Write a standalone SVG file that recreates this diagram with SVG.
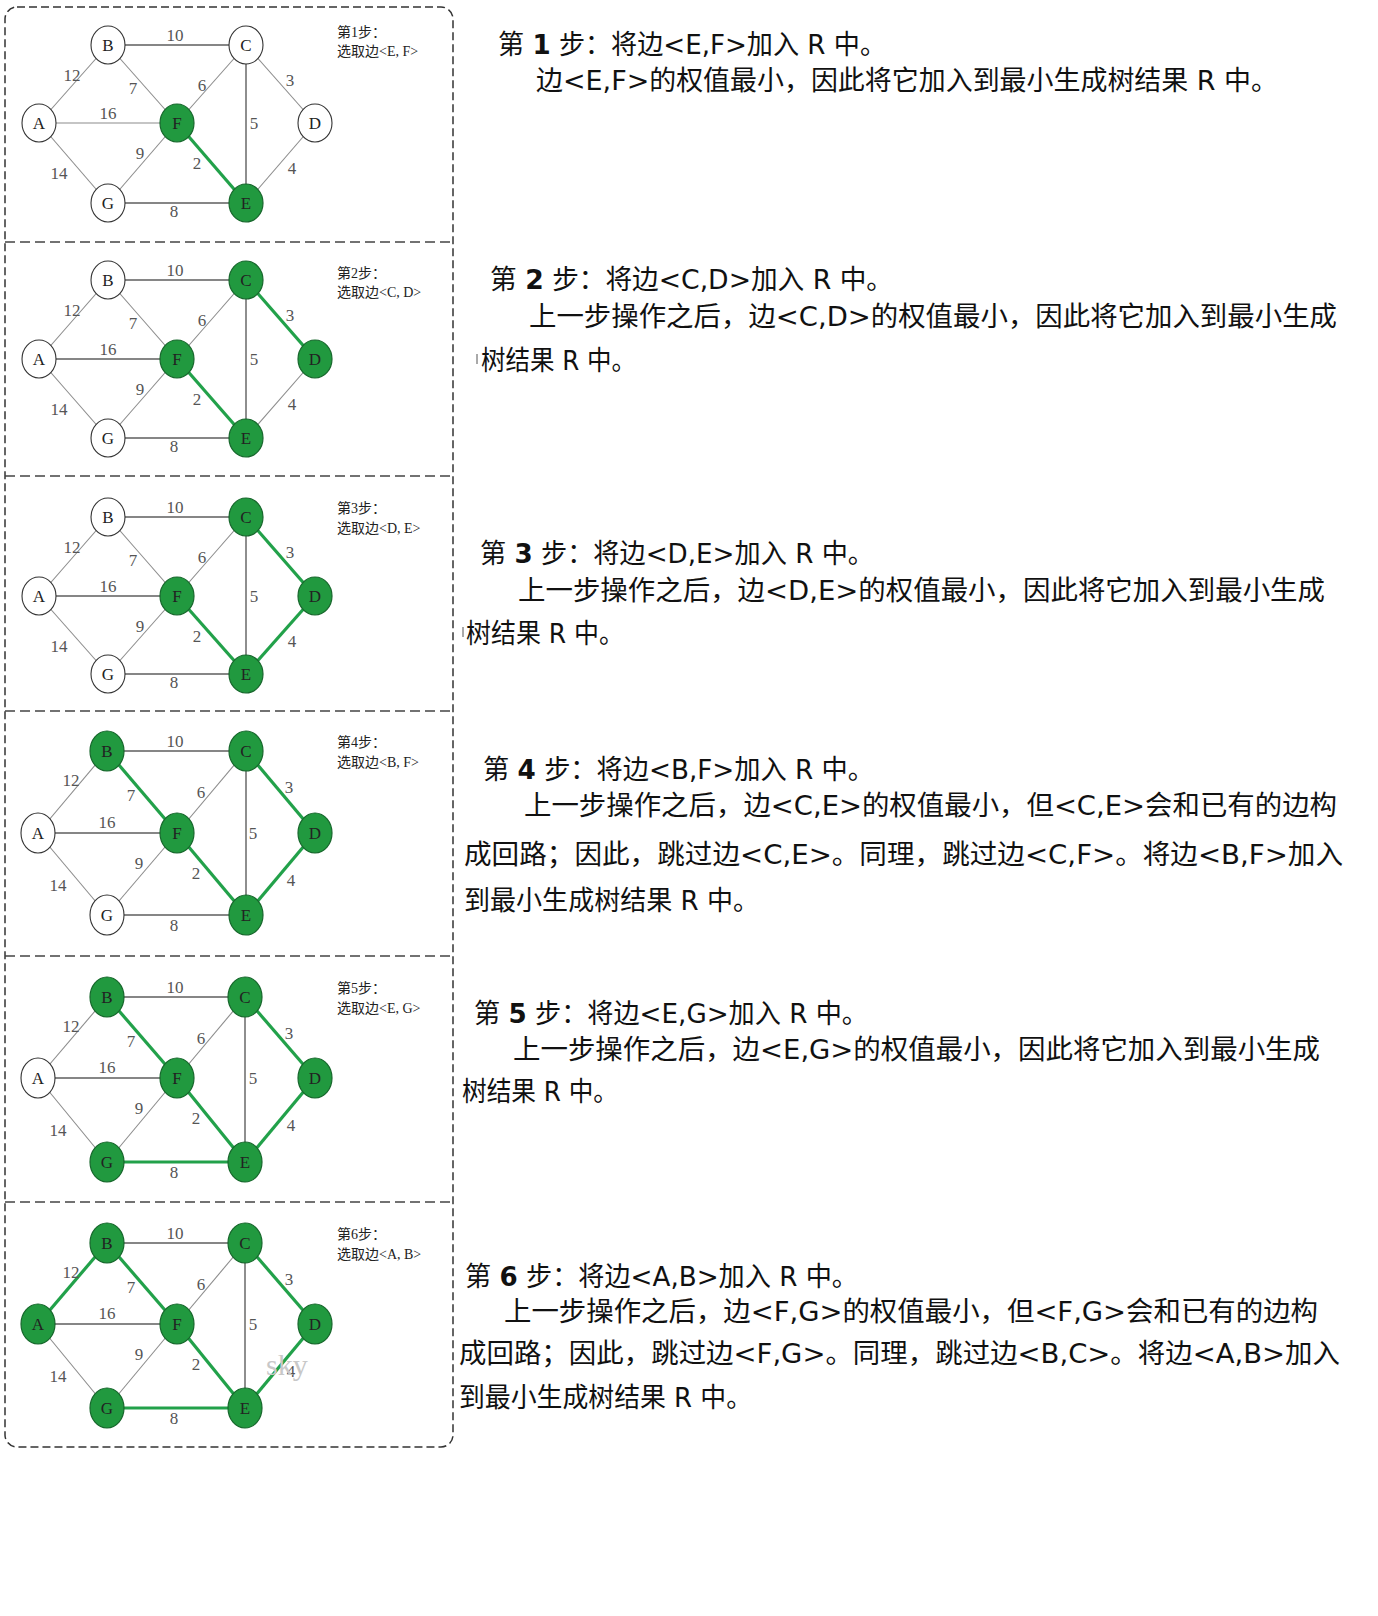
<svg xmlns="http://www.w3.org/2000/svg" width="1378" height="1616" viewBox="0 0 1378 1616">
<style>
.bg{fill:#fff}
.frame{fill:none;stroke:#333;stroke-width:1.5;stroke-dasharray:8 4}
.div{stroke:#444;stroke-width:1.5;stroke-dasharray:10 5}
.e{stroke:#8c8c8c;stroke-width:1.1}
.ed{stroke:#5e5e5e;stroke-width:1.4}
.eg{stroke:#22a14a;stroke-width:3.2}
.nw{fill:#fff;stroke:#333;stroke-width:1.1}
.ng{fill:#21993f;stroke:#17672c;stroke-width:1.2}
.nl{font-family:"Liberation Serif",serif;font-size:17px;fill:#222;text-anchor:middle}
.wl{font-family:"Liberation Serif",serif;font-size:17px;fill:#555;text-anchor:middle}
.tag{font-family:"Liberation Serif","Noto Sans CJK SC",serif;font-size:14px;fill:#222}
.tx{font-family:"DejaVu Sans","Noto Sans CJK SC",sans-serif;font-size:27px;fill:#111}
.b{font-weight:bold}
</style>
<rect class="bg" x="0" y="0" width="1378" height="1616"/>

<g id="frame">
<rect class="frame" x="5" y="7" width="448" height="1440" rx="12" ry="12"/>
<line class="div" x1="5" y1="242" x2="453" y2="242"/>
<line class="div" x1="5" y1="476" x2="453" y2="476"/>
<line class="div" x1="5" y1="711" x2="453" y2="711"/>
<line class="div" x1="5" y1="956" x2="453" y2="956"/>
<line class="div" x1="5" y1="1202" x2="453" y2="1202"/>
</g>

<!-- Panel 1 -->
<g id="panel1" transform="translate(0,45)">
<g id="p1-edges">
<line class="e" x1="39" y1="78" x2="108" y2="0"/>
<line class="ed" x1="108" y1="0" x2="246" y2="0"/>
<line class="e" x1="108" y1="0" x2="177" y2="78"/>
<line class="e" x1="246" y1="0" x2="177" y2="78"/>
<line class="e" x1="246" y1="0" x2="315" y2="78"/>
<line class="e" x1="39" y1="78" x2="177" y2="78"/>
<line class="ed" x1="246" y1="0" x2="246" y2="158"/>
<line class="e" x1="177" y1="78" x2="108" y2="158"/>
<line class="eg" x1="177" y1="78" x2="246" y2="158"/>
<line class="e" x1="315" y1="78" x2="246" y2="158"/>
<line class="e" x1="39" y1="78" x2="108" y2="158"/>
<line class="ed" x1="108" y1="158" x2="246" y2="158"/>
</g>
<g id="p1-weights">
<text class="wl" x="175" y="-4">10</text><text class="wl" x="72" y="36">12</text><text class="wl" x="133" y="49">7</text><text class="wl" x="202" y="46">6</text><text class="wl" x="290" y="41">3</text><text class="wl" x="108" y="74">16</text><text class="wl" x="254" y="84">5</text><text class="wl" x="140" y="114">9</text><text class="wl" x="197" y="124">2</text><text class="wl" x="292" y="129">4</text><text class="wl" x="59" y="134">14</text><text class="wl" x="174" y="172">8</text>
</g>
<g id="p1-A"><ellipse class="nw" cx="39" cy="78" rx="17" ry="19"/><text class="nl" x="39" y="84">A</text></g>
<g id="p1-B"><ellipse class="nw" cx="108" cy="0" rx="17" ry="19"/><text class="nl" x="108" y="6">B</text></g>
<g id="p1-C"><ellipse class="nw" cx="246" cy="0" rx="17" ry="19"/><text class="nl" x="246" y="6">C</text></g>
<g id="p1-D"><ellipse class="nw" cx="315" cy="78" rx="17" ry="19"/><text class="nl" x="315" y="84">D</text></g>
<g id="p1-E"><ellipse class="ng" cx="246" cy="158" rx="17" ry="19"/><text class="nl" x="246" y="164">E</text></g>
<g id="p1-F"><ellipse class="ng" cx="177" cy="78" rx="17" ry="19"/><text class="nl" x="177" y="84">F</text></g>
<g id="p1-G"><ellipse class="nw" cx="108" cy="158" rx="17" ry="19"/><text class="nl" x="108" y="164">G</text></g>
<text class="tag" x="337" y="-8">第1步：</text>
<text class="tag" x="337" y="11">选取边&lt;E, F&gt;</text>
</g>

<!-- Panel 2 -->
<g id="panel2" transform="translate(0,280)">
<g id="p2-edges">
<line class="e" x1="39" y1="79" x2="108" y2="0"/>
<line class="ed" x1="108" y1="0" x2="246" y2="0"/>
<line class="e" x1="108" y1="0" x2="177" y2="79"/>
<line class="e" x1="246" y1="0" x2="177" y2="79"/>
<line class="eg" x1="246" y1="0" x2="315" y2="79"/>
<line class="ed" x1="39" y1="79" x2="177" y2="79"/>
<line class="ed" x1="246" y1="0" x2="246" y2="158"/>
<line class="e" x1="177" y1="79" x2="108" y2="158"/>
<line class="eg" x1="177" y1="79" x2="246" y2="158"/>
<line class="e" x1="315" y1="79" x2="246" y2="158"/>
<line class="e" x1="39" y1="79" x2="108" y2="158"/>
<line class="ed" x1="108" y1="158" x2="246" y2="158"/>
</g>
<g id="p2-weights">
<text class="wl" x="175" y="-4">10</text><text class="wl" x="72" y="36">12</text><text class="wl" x="133" y="49">7</text><text class="wl" x="202" y="46">6</text><text class="wl" x="290" y="41">3</text><text class="wl" x="108" y="75">16</text><text class="wl" x="254" y="85">5</text><text class="wl" x="140" y="115">9</text><text class="wl" x="197" y="125">2</text><text class="wl" x="292" y="130">4</text><text class="wl" x="59" y="135">14</text><text class="wl" x="174" y="172">8</text>
</g>
<g id="p2-A"><ellipse class="nw" cx="39" cy="79" rx="17" ry="19"/><text class="nl" x="39" y="85">A</text></g>
<g id="p2-B"><ellipse class="nw" cx="108" cy="0" rx="17" ry="19"/><text class="nl" x="108" y="6">B</text></g>
<g id="p2-C"><ellipse class="ng" cx="246" cy="0" rx="17" ry="19"/><text class="nl" x="246" y="6">C</text></g>
<g id="p2-D"><ellipse class="ng" cx="315" cy="79" rx="17" ry="19"/><text class="nl" x="315" y="85">D</text></g>
<g id="p2-E"><ellipse class="ng" cx="246" cy="158" rx="17" ry="19"/><text class="nl" x="246" y="164">E</text></g>
<g id="p2-F"><ellipse class="ng" cx="177" cy="79" rx="17" ry="19"/><text class="nl" x="177" y="85">F</text></g>
<g id="p2-G"><ellipse class="nw" cx="108" cy="158" rx="17" ry="19"/><text class="nl" x="108" y="164">G</text></g>
<text class="tag" x="337" y="-2">第2步：</text>
<text class="tag" x="337" y="17">选取边&lt;C, D&gt;</text>
</g>

<!-- Panel 3 -->
<g id="panel3" transform="translate(0,517)">
<g id="p3-edges">
<line class="e" x1="39" y1="79" x2="108" y2="0"/>
<line class="ed" x1="108" y1="0" x2="246" y2="0"/>
<line class="e" x1="108" y1="0" x2="177" y2="79"/>
<line class="e" x1="246" y1="0" x2="177" y2="79"/>
<line class="eg" x1="246" y1="0" x2="315" y2="79"/>
<line class="ed" x1="39" y1="79" x2="177" y2="79"/>
<line class="ed" x1="246" y1="0" x2="246" y2="157"/>
<line class="e" x1="177" y1="79" x2="108" y2="157"/>
<line class="eg" x1="177" y1="79" x2="246" y2="157"/>
<line class="eg" x1="315" y1="79" x2="246" y2="157"/>
<line class="e" x1="39" y1="79" x2="108" y2="157"/>
<line class="ed" x1="108" y1="157" x2="246" y2="157"/>
</g>
<g id="p3-weights">
<text class="wl" x="175" y="-4">10</text><text class="wl" x="72" y="36">12</text><text class="wl" x="133" y="49">7</text><text class="wl" x="202" y="46">6</text><text class="wl" x="290" y="41">3</text><text class="wl" x="108" y="75">16</text><text class="wl" x="254" y="85">5</text><text class="wl" x="140" y="115">9</text><text class="wl" x="197" y="125">2</text><text class="wl" x="292" y="130">4</text><text class="wl" x="59" y="135">14</text><text class="wl" x="174" y="171">8</text>
</g>
<g id="p3-A"><ellipse class="nw" cx="39" cy="79" rx="17" ry="19"/><text class="nl" x="39" y="85">A</text></g>
<g id="p3-B"><ellipse class="nw" cx="108" cy="0" rx="17" ry="19"/><text class="nl" x="108" y="6">B</text></g>
<g id="p3-C"><ellipse class="ng" cx="246" cy="0" rx="17" ry="19"/><text class="nl" x="246" y="6">C</text></g>
<g id="p3-D"><ellipse class="ng" cx="315" cy="79" rx="17" ry="19"/><text class="nl" x="315" y="85">D</text></g>
<g id="p3-E"><ellipse class="ng" cx="246" cy="157" rx="17" ry="19"/><text class="nl" x="246" y="163">E</text></g>
<g id="p3-F"><ellipse class="ng" cx="177" cy="79" rx="17" ry="19"/><text class="nl" x="177" y="85">F</text></g>
<g id="p3-G"><ellipse class="nw" cx="108" cy="157" rx="17" ry="19"/><text class="nl" x="108" y="163">G</text></g>
<text class="tag" x="337" y="-4">第3步：</text>
<text class="tag" x="337" y="16">选取边&lt;D, E&gt;</text>
</g>

<!-- Panel 4 -->
<g id="panel4" transform="translate(0,751)">
<g id="p4-edges">
<line class="e" x1="38" y1="82" x2="107" y2="0"/>
<line class="ed" x1="107" y1="0" x2="246" y2="0"/>
<line class="eg" x1="107" y1="0" x2="177" y2="82"/>
<line class="e" x1="246" y1="0" x2="177" y2="82"/>
<line class="eg" x1="246" y1="0" x2="315" y2="82"/>
<line class="ed" x1="38" y1="82" x2="177" y2="82"/>
<line class="ed" x1="246" y1="0" x2="246" y2="164"/>
<line class="e" x1="177" y1="82" x2="107" y2="164"/>
<line class="eg" x1="177" y1="82" x2="246" y2="164"/>
<line class="eg" x1="315" y1="82" x2="246" y2="164"/>
<line class="e" x1="38" y1="82" x2="107" y2="164"/>
<line class="ed" x1="107" y1="164" x2="246" y2="164"/>
</g>
<g id="p4-weights">
<text class="wl" x="175" y="-4">10</text><text class="wl" x="71" y="35">12</text><text class="wl" x="131" y="50">7</text><text class="wl" x="201" y="47">6</text><text class="wl" x="289" y="42">3</text><text class="wl" x="107" y="77">16</text><text class="wl" x="253" y="88">5</text><text class="wl" x="139" y="118">9</text><text class="wl" x="196" y="128">2</text><text class="wl" x="291" y="135">4</text><text class="wl" x="58" y="140">14</text><text class="wl" x="174" y="180">8</text>
</g>
<g id="p4-A"><ellipse class="nw" cx="38" cy="82" rx="17" ry="20"/><text class="nl" x="38" y="88">A</text></g>
<g id="p4-B"><ellipse class="ng" cx="107" cy="0" rx="17" ry="20"/><text class="nl" x="107" y="6">B</text></g>
<g id="p4-C"><ellipse class="ng" cx="246" cy="0" rx="17" ry="20"/><text class="nl" x="246" y="6">C</text></g>
<g id="p4-D"><ellipse class="ng" cx="315" cy="82" rx="17" ry="20"/><text class="nl" x="315" y="88">D</text></g>
<g id="p4-E"><ellipse class="ng" cx="246" cy="164" rx="17" ry="20"/><text class="nl" x="246" y="170">E</text></g>
<g id="p4-F"><ellipse class="ng" cx="177" cy="82" rx="17" ry="20"/><text class="nl" x="177" y="88">F</text></g>
<g id="p4-G"><ellipse class="nw" cx="107" cy="164" rx="17" ry="20"/><text class="nl" x="107" y="170">G</text></g>
<text class="tag" x="337" y="-4">第4步：</text>
<text class="tag" x="337" y="16">选取边&lt;B, F&gt;</text>
</g>

<!-- Panel 5 -->
<g id="panel5" transform="translate(0,997)">
<g id="p5-edges">
<line class="e" x1="38" y1="81" x2="107" y2="0"/>
<line class="ed" x1="107" y1="0" x2="245" y2="0"/>
<line class="eg" x1="107" y1="0" x2="177" y2="81"/>
<line class="e" x1="245" y1="0" x2="177" y2="81"/>
<line class="eg" x1="245" y1="0" x2="315" y2="81"/>
<line class="ed" x1="38" y1="81" x2="177" y2="81"/>
<line class="ed" x1="245" y1="0" x2="245" y2="165"/>
<line class="e" x1="177" y1="81" x2="107" y2="165"/>
<line class="eg" x1="177" y1="81" x2="245" y2="165"/>
<line class="eg" x1="315" y1="81" x2="245" y2="165"/>
<line class="e" x1="38" y1="81" x2="107" y2="165"/>
<line class="eg" x1="107" y1="165" x2="245" y2="165"/>
</g>
<g id="p5-weights">
<text class="wl" x="175" y="-4">10</text><text class="wl" x="71" y="35">12</text><text class="wl" x="131" y="50">7</text><text class="wl" x="201" y="47">6</text><text class="wl" x="289" y="42">3</text><text class="wl" x="107" y="76">16</text><text class="wl" x="253" y="87">5</text><text class="wl" x="139" y="117">9</text><text class="wl" x="196" y="127">2</text><text class="wl" x="291" y="134">4</text><text class="wl" x="58" y="139">14</text><text class="wl" x="174" y="181">8</text>
</g>
<g id="p5-A"><ellipse class="nw" cx="38" cy="81" rx="17" ry="20"/><text class="nl" x="38" y="87">A</text></g>
<g id="p5-B"><ellipse class="ng" cx="107" cy="0" rx="17" ry="20"/><text class="nl" x="107" y="6">B</text></g>
<g id="p5-C"><ellipse class="ng" cx="245" cy="0" rx="17" ry="20"/><text class="nl" x="245" y="6">C</text></g>
<g id="p5-D"><ellipse class="ng" cx="315" cy="81" rx="17" ry="20"/><text class="nl" x="315" y="87">D</text></g>
<g id="p5-E"><ellipse class="ng" cx="245" cy="165" rx="17" ry="20"/><text class="nl" x="245" y="171">E</text></g>
<g id="p5-F"><ellipse class="ng" cx="177" cy="81" rx="17" ry="20"/><text class="nl" x="177" y="87">F</text></g>
<g id="p5-G"><ellipse class="ng" cx="107" cy="165" rx="17" ry="20"/><text class="nl" x="107" y="171">G</text></g>
<text class="tag" x="337" y="-4">第5步：</text>
<text class="tag" x="337" y="16">选取边&lt;E, G&gt;</text>
</g>

<!-- Panel 6 -->
<g id="panel6" transform="translate(0,1243)">
<g id="p6-edges">
<line class="eg" x1="38" y1="81" x2="107" y2="0"/>
<line class="ed" x1="107" y1="0" x2="245" y2="0"/>
<line class="eg" x1="107" y1="0" x2="177" y2="81"/>
<line class="e" x1="245" y1="0" x2="177" y2="81"/>
<line class="eg" x1="245" y1="0" x2="315" y2="81"/>
<line class="ed" x1="38" y1="81" x2="177" y2="81"/>
<line class="ed" x1="245" y1="0" x2="245" y2="165"/>
<line class="e" x1="177" y1="81" x2="107" y2="165"/>
<line class="eg" x1="177" y1="81" x2="245" y2="165"/>
<line class="eg" x1="315" y1="81" x2="245" y2="165"/>
<line class="e" x1="38" y1="81" x2="107" y2="165"/>
<line class="eg" x1="107" y1="165" x2="245" y2="165"/>
</g>
<g id="p6-weights">
<text class="wl" x="175" y="-4">10</text><text class="wl" x="71" y="35">12</text><text class="wl" x="131" y="50">7</text><text class="wl" x="201" y="47">6</text><text class="wl" x="289" y="42">3</text><text class="wl" x="107" y="76">16</text><text class="wl" x="253" y="87">5</text><text class="wl" x="139" y="117">9</text><text class="wl" x="196" y="127">2</text><text class="wl" x="291" y="134">4</text><text class="wl" x="58" y="139">14</text><text class="wl" x="174" y="181">8</text>
</g>
<text x="266" y="132" font-family="Liberation Serif, serif" font-size="30" fill="#c8c8c8">sky</text>
<g id="p6-A"><ellipse class="ng" cx="38" cy="81" rx="17" ry="20"/><text class="nl" x="38" y="87">A</text></g>
<g id="p6-B"><ellipse class="ng" cx="107" cy="0" rx="17" ry="20"/><text class="nl" x="107" y="6">B</text></g>
<g id="p6-C"><ellipse class="ng" cx="245" cy="0" rx="17" ry="20"/><text class="nl" x="245" y="6">C</text></g>
<g id="p6-D"><ellipse class="ng" cx="315" cy="81" rx="17" ry="20"/><text class="nl" x="315" y="87">D</text></g>
<g id="p6-E"><ellipse class="ng" cx="245" cy="165" rx="17" ry="20"/><text class="nl" x="245" y="171">E</text></g>
<g id="p6-F"><ellipse class="ng" cx="177" cy="81" rx="17" ry="20"/><text class="nl" x="177" y="87">F</text></g>
<g id="p6-G"><ellipse class="ng" cx="107" cy="165" rx="17" ry="20"/><text class="nl" x="107" y="171">G</text></g>
<text class="tag" x="337" y="-4">第6步：</text>
<text class="tag" x="337" y="16">选取边&lt;A, B&gt;</text>
</g>

<!-- Explanations -->
<g id="text1">
<text class="tx" x="498" y="54" textLength="388" lengthAdjust="spacingAndGlyphs">第 <tspan class="b">1</tspan> 步：将边&lt;E,F&gt;加入 R 中。</text>
<text class="tx" x="536" y="90" textLength="742" lengthAdjust="spacingAndGlyphs">边&lt;E,F&gt;的权值最小，因此将它加入到最小生成树结果 R 中。</text>
</g>
<g id="text2">
<text class="tx" x="490" y="289" textLength="403" lengthAdjust="spacingAndGlyphs">第 <tspan class="b">2</tspan> 步：将边&lt;C,D&gt;加入 R 中。</text>
<text class="tx" x="529" y="326" textLength="808" lengthAdjust="spacingAndGlyphs">上一步操作之后，边&lt;C,D&gt;的权值最小，因此将它加入到最小生成</text>
<line x1="477" y1="354" x2="477" y2="364" stroke="#555" stroke-width="1"/>
<text class="tx" x="481" y="370" textLength="155" lengthAdjust="spacingAndGlyphs">树结果 R 中。</text>
</g>
<g id="text3">
<text class="tx" x="480" y="563" textLength="394" lengthAdjust="spacingAndGlyphs">第 <tspan class="b">3</tspan> 步：将边&lt;D,E&gt;加入 R 中。</text>
<text class="tx" x="518" y="600" textLength="807" lengthAdjust="spacingAndGlyphs">上一步操作之后，边&lt;D,E&gt;的权值最小，因此将它加入到最小生成</text>
<line x1="463" y1="627" x2="463" y2="637" stroke="#555" stroke-width="1"/>
<text class="tx" x="466" y="643" textLength="158" lengthAdjust="spacingAndGlyphs">树结果 R 中。</text>
</g>
<g id="text4">
<text class="tx" x="483" y="779" textLength="391" lengthAdjust="spacingAndGlyphs">第 <tspan class="b">4</tspan> 步：将边&lt;B,F&gt;加入 R 中。</text>
<text class="tx" x="524" y="815" textLength="813" lengthAdjust="spacingAndGlyphs">上一步操作之后，边&lt;C,E&gt;的权值最小，但&lt;C,E&gt;会和已有的边构</text>
<text class="tx" x="464" y="864" textLength="879" lengthAdjust="spacingAndGlyphs">成回路；因此，跳过边&lt;C,E&gt;。同理，跳过边&lt;C,F&gt;。将边&lt;B,F&gt;加入</text>
<text class="tx" x="464" y="910" textLength="295" lengthAdjust="spacingAndGlyphs">到最小生成树结果 R 中。</text>
</g>
<g id="text5">
<text class="tx" x="474" y="1023" textLength="394" lengthAdjust="spacingAndGlyphs">第 <tspan class="b">5</tspan> 步：将边&lt;E,G&gt;加入 R 中。</text>
<text class="tx" x="513" y="1059" textLength="807" lengthAdjust="spacingAndGlyphs">上一步操作之后，边&lt;E,G&gt;的权值最小，因此将它加入到最小生成</text>
<text class="tx" x="462" y="1101" textLength="156" lengthAdjust="spacingAndGlyphs">树结果 R 中。</text>
</g>
<g id="text6">
<text class="tx" x="465" y="1286" textLength="393" lengthAdjust="spacingAndGlyphs">第 <tspan class="b">6</tspan> 步：将边&lt;A,B&gt;加入 R 中。</text>
<text class="tx" x="504" y="1321" textLength="814" lengthAdjust="spacingAndGlyphs">上一步操作之后，边&lt;F,G&gt;的权值最小，但&lt;F,G&gt;会和已有的边构</text>
<text class="tx" x="459" y="1363" textLength="881" lengthAdjust="spacingAndGlyphs">成回路；因此，跳过边&lt;F,G&gt;。同理，跳过边&lt;B,C&gt;。将边&lt;A,B&gt;加入</text>
<text class="tx" x="459" y="1407" textLength="293" lengthAdjust="spacingAndGlyphs">到最小生成树结果 R 中。</text>
</g>
</svg>
